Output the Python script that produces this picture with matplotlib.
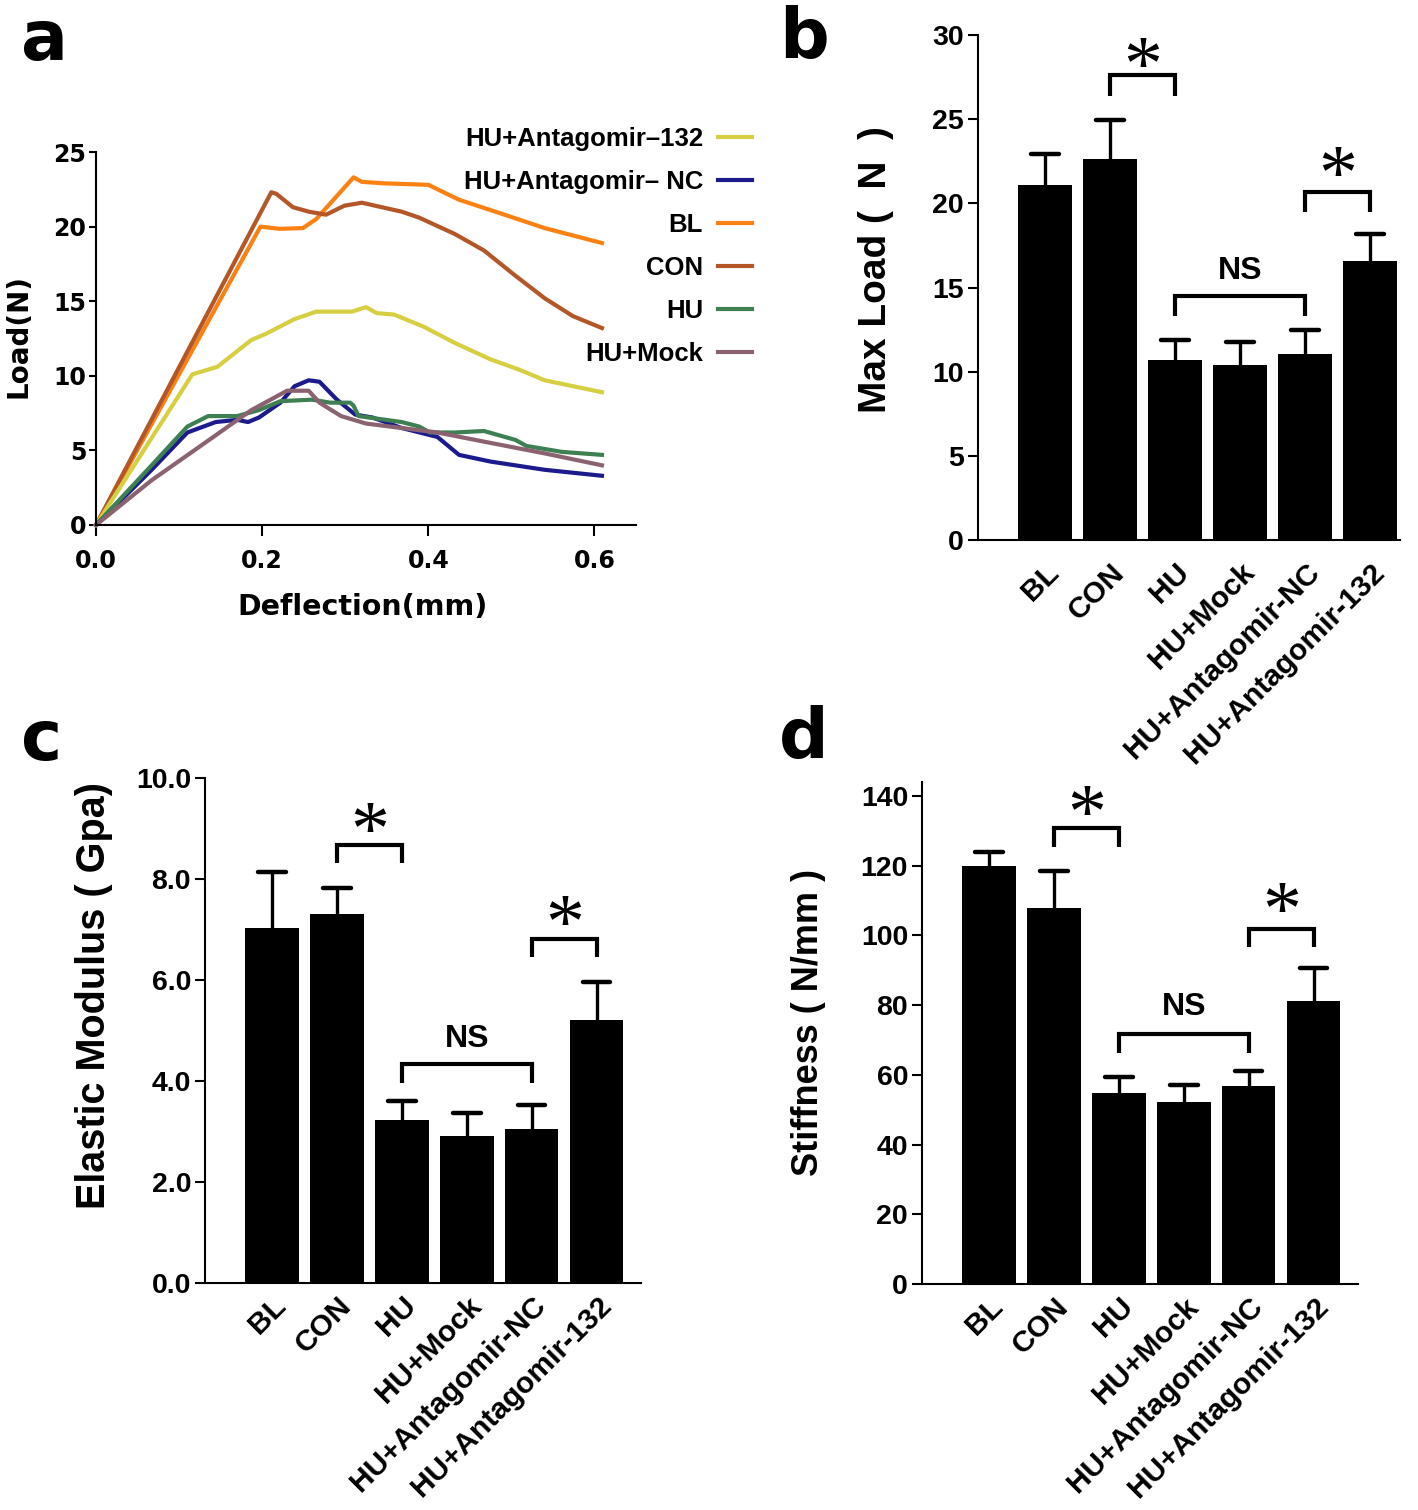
import matplotlib
matplotlib.use("Agg")
import matplotlib.pyplot as plt
import numpy as np

# ---- panel a: load-deflection curves ----
bl_x = [0, 0.198, 0.221, 0.249, 0.265, 0.310, 0.320, 0.346, 0.400, 0.437, 0.497, 0.540, 0.609]
bl_y = [0, 20.0, 19.85, 19.9, 20.5, 23.3, 23.0, 22.9, 22.8, 21.8, 20.7, 19.9, 18.9]

con_x = [0, 0.211, 0.217, 0.237, 0.256, 0.277, 0.299, 0.320, 0.368, 0.389, 0.432, 0.467, 0.505, 0.540, 0.574, 0.609]
con_y = [0, 22.3, 22.2, 21.3, 21.0, 20.8, 21.4, 21.6, 21.0, 20.6, 19.5, 18.4, 16.7, 15.2, 14.0, 13.2]

ant132_x = [0, 0.116, 0.146, 0.187, 0.204, 0.239, 0.265, 0.308, 0.325, 0.338, 0.359, 0.394, 0.432, 0.475, 0.510, 0.540, 0.609]
ant132_y = [0, 10.1, 10.6, 12.4, 12.8, 13.8, 14.3, 14.3, 14.6, 14.2, 14.1, 13.3, 12.2, 11.1, 10.4, 9.7, 8.9]

antnc_x = [0, 0.067, 0.110, 0.144, 0.170, 0.183, 0.196, 0.222, 0.239, 0.256, 0.269, 0.290, 0.312, 0.333,
           0.368, 0.411, 0.424, 0.437, 0.475, 0.540, 0.609]
antnc_y = [0, 3.7, 6.2, 6.9, 7.05, 6.9, 7.2, 8.2, 9.3, 9.7, 9.6, 8.4, 7.4, 7.2,
           6.5, 5.9, 5.3, 4.7, 4.25, 3.7, 3.3]

hu_x = [0, 0.067, 0.110, 0.135, 0.170, 0.196, 0.222, 0.260, 0.282, 0.306, 0.310, 0.316, 0.368, 0.389,
        0.402, 0.432, 0.467, 0.505, 0.518, 0.561, 0.609]
hu_y = [0, 4.0, 6.6, 7.3, 7.3, 7.7, 8.3, 8.4, 8.2, 8.2, 8.0, 7.3, 6.9, 6.6,
        6.2, 6.2, 6.3, 5.7, 5.3, 4.9, 4.7]

mock_x = [0, 0.067, 0.131, 0.187, 0.230, 0.256, 0.269, 0.295, 0.325, 0.368, 0.411, 0.475, 0.540, 0.609]
mock_y = [0, 3.0, 5.5, 7.7, 9.0, 9.0, 8.2, 7.3, 6.8, 6.5, 6.2, 5.5, 4.8, 4.0]

# ---- panels b-d: group means with upper error bars ----
groups = ["BL", "CON", "HU", "HU+Mock", "HU+Antagomir-NC", "HU+Antagomir-132"]

load_mean = [21.06, 22.66, 10.70, 10.40, 11.07, 16.57]
load_err = [1.90, 2.31, 1.19, 1.39, 1.40, 1.62]

modulus_mean = [7.03, 7.30, 3.23, 2.92, 3.04, 5.20]
modulus_err = [1.11, 0.52, 0.37, 0.44, 0.49, 0.76]

stiff_mean = [120.0, 107.8, 54.8, 52.1, 56.9, 81.3]
stiff_err = [3.9, 10.7, 4.5, 4.9, 4.1, 9.4]

# brackets: (from, to, top, leg end, label, label y)
load_sig = [(1, 2, 27.6, 26.4, "*", 28.9), (4, 5, 20.7, 19.5, "*", 22.4), (2, 4, 14.5, 13.3, "NS", 16.0)]
modulus_sig = [(1, 2, 8.68, 8.32, "*", 9.2), (4, 5, 6.82, 6.45, "*", 7.35), (2, 4, 4.34, 3.96, "NS", 4.83)]
stiff_sig = [(1, 2, 130.8, 125.4, "*", 138.5), (4, 5, 101.7, 96.7, "*", 110.5), (2, 4, 71.6, 66.2, "NS", 79.4)]

plt.rcParams["font.family"] = ["Liberation Sans", "DejaVu Sans"]
plt.rcParams["font.weight"] = "bold"

W, H = 1418, 1510
fig = plt.figure(figsize=(W / 100, H / 100), dpi=100)


def px_axes(left, top, right, bottom):
    return fig.add_axes([left / W, 1 - bottom / H, (right - left) / W, (bottom - top) / H])


def style_spines(ax, lw=1.5):
    for s in ["top", "right"]:
        ax.spines[s].set_visible(False)
    for s in ["left", "bottom"]:
        ax.spines[s].set_linewidth(lw)


# ---------------- a ----------------
ax = px_axes(96, 152, 636, 525)
l_bl, = ax.plot(bl_x, bl_y, color="#fb8113", lw=3, clip_on=False)
l_con, = ax.plot(con_x, con_y, color="#b35628", lw=3, clip_on=False)
l_132, = ax.plot(ant132_x, ant132_y, color="#d6cf42", lw=3, clip_on=False)
l_nc, = ax.plot(antnc_x, antnc_y, color="#1b1b8e", lw=3, clip_on=False)
l_hu, = ax.plot(hu_x, hu_y, color="#3e8052", lw=3, clip_on=False)
l_mock, = ax.plot(mock_x, mock_y, color="#8b6270", lw=3, clip_on=False)
ax.set_xlim(0, 0.65)
ax.set_ylim(0, 25)
ax.set_xticks([0, 0.2, 0.4, 0.6])
ax.set_xticklabels(["0.0", "0.2", "0.4", "0.6"])
ax.set_yticks(np.arange(0, 26, 5))
style_spines(ax)
for lab in ax.get_xticklabels() + ax.get_yticklabels():
    lab.set_family("DejaVu Sans")
    lab.set_fontsize(17)
    lab.set_fontweight("bold")
ax.tick_params(axis="x", direction="out", length=8, width=1.5, pad=9)
ax.tick_params(axis="y", direction="out", length=5, width=1.5, pad=2)
ax.set_xlabel("Deflection(mm)", family="DejaVu Sans", fontsize=20.5, fontweight="bold")
ax.set_ylabel("Load(N)", family="DejaVu Sans", fontsize=20, fontweight="bold")
ax.xaxis.set_label_coords(0.494, -0.182)
ax.yaxis.set_label_coords(-0.117, 0.507)

fig.legend([l_132, l_nc, l_bl, l_con, l_hu, l_mock],
           ["HU+Antagomir\u2013132", "HU+Antagomir\u2013 NC", "BL", "CON", "HU", "HU+Mock"],
           loc="upper right", bbox_to_anchor=(752 / W, 1 - 127 / H), frameon=False,
           markerfirst=False, prop={"size": 18.5, "weight": "bold"}, handlelength=1.33,
           handletextpad=0.58, labelspacing=0.74, borderpad=0, borderaxespad=0)


# ---------------- bar panels ----------------
def bar_panel(ax, means, errs, ylim, yticks, ytl, sig, ylabel, ylabel_size, label_xy, xlim_right, xpad):
    x = np.arange(len(groups))
    tops = np.array(means) + np.array(errs)
    ax.vlines(x, means, tops, color="black", lw=2.4, zorder=1)
    caps = ax.hlines(tops, x - 0.21, x + 0.21, color="black", lw=3.2, zorder=1)
    caps.set_capstyle("round")
    ax.bar(x, means, width=0.82, color="black", zorder=2)
    ax.set_xlim(-1.03, xlim_right)
    ax.set_ylim(*ylim)
    ax.set_yticks(yticks)
    ax.set_yticklabels(ytl, fontsize=20.5, fontweight="bold")
    ax.set_xticks(x)
    ax.set_xticklabels(groups, rotation=45, ha="right", rotation_mode="anchor",
                       fontsize=21.5, fontweight="bold")
    ax.tick_params(axis="x", length=0, pad=xpad)
    ax.tick_params(axis="y", direction="out", length=7, width=1.5, pad=3)
    style_spines(ax)
    for i, j, top, leg, txt, ty in sig:
        ax.plot([x[i], x[i], x[j], x[j]], [leg, top, top, leg], color="black", lw=3,
                solid_joinstyle="miter", solid_capstyle="butt", clip_on=False)
        if txt == "*":
            ax.annotate("*", ((x[i] + x[j]) / 2, ty), xytext=(0, -12), textcoords="offset points",
                        ha="center", va="center", fontsize=56,
                        family="Liberation Serif", fontweight="normal")
        else:
            ax.text((x[i] + x[j]) / 2, ty, txt, ha="center", va="center", fontsize=23,
                    fontweight="bold")
    ax.set_ylabel(ylabel, fontsize=ylabel_size, fontweight="bold")
    ax.yaxis.set_label_coords(*label_xy)


ax_b = px_axes(978, 35, 1400, 540)
bar_panel(ax_b, load_mean, load_err, (0, 30), np.arange(0, 31, 5),
          [str(v) for v in range(0, 31, 5)], load_sig, "Max Load (  N  )", 28,
          (-0.20, 0.535), 5.46, 13)

ax_c = px_axes(205, 778, 641, 1283)
bar_panel(ax_c, modulus_mean, modulus_err, (0, 10), np.arange(0, 10.1, 2),
          [f"{v:.1f}" for v in np.arange(0, 10.1, 2)], modulus_sig, "Elastic Modulus ( Gpa)", 28.5,
          (-0.21, 0.57), 5.68, 6)

ax_d = px_axes(922, 782, 1358, 1284)
bar_panel(ax_d, stiff_mean, stiff_err, (0, 144), np.arange(0, 141, 20),
          [str(v) for v in range(0, 141, 20)], stiff_sig, "Stiffness ( N/mm )", 26,
          (-0.22, 0.52), 5.68, 6)

# panel letters
for letter, px, py in [("a", 21, 60), ("b", 779, 58), ("c", 21, 760), ("d", 779, 758)]:
    fig.text(px / W, 1 - py / H, letter, fontsize=50, fontweight="bold", family="DejaVu Sans",
             ha="left", va="baseline")

fig.savefig("out.png", dpi=100)
